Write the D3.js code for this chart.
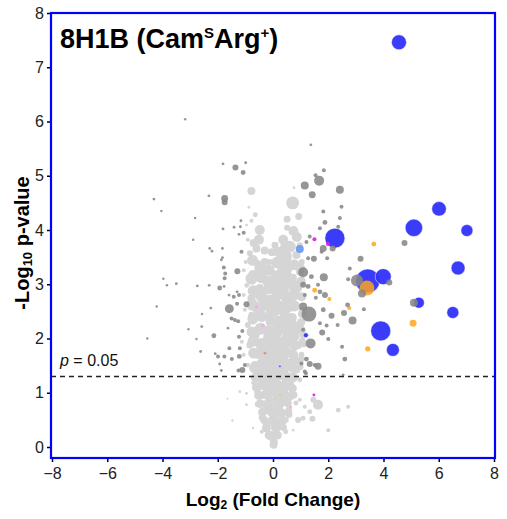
<!DOCTYPE html>
<html>
<head>
<meta charset="utf-8">
<script src="https://cdn.jsdelivr.net/npm/d3@7"></script>
<style>
  body { margin: 0; background: #fff; }
  svg { font-family: "Liberation Sans", Arial, sans-serif; }
</style>
</head>
<body>
<script>
// volcano plot values: [log2 fold change, -log10 p, abundance]
var lightPts = [
  [-0.78,4.72,16],[0.71,4.50,42],[0.76,4.78,2],[-0.87,4.42,2],[-0.64,4.28,6],[0.51,4.20,12],
  [0.93,4.25,12],[-0.78,4.17,4],[0.51,4.04,9],[-0.48,4.00,25],[-0.51,3.82,25],[-0.96,4.09,2],
  [0.74,3.98,25],[0.37,3.82,25],[0.86,3.87,25],[0.61,3.69,36],[0.31,3.45,36],[-0.60,3.66,16],
  [-0.72,3.48,9],[-0.84,3.57,9],[0.43,3.51,49],[0.85,3.54,16],[-0.04,3.59,16],[-0.30,3.41,16],
  [1.04,3.41,9],[0.49,3.11,49],[0.37,2.86,36],[0.61,2.62,49],[0.25,2.31,36],[0.55,2.13,36],
  [0.37,1.85,36],[0.73,1.70,25],[-0.72,3.17,25],[-0.48,2.93,16],[-0.78,2.74,16],[-0.66,2.07,25],
  [-0.24,1.94,25],[-0.12,2.56,25],[-0.30,3.23,16],[-0.54,3.39,9],[0.13,2.99,25],[0.07,2.74,25],
  [0.97,3.23,16],[0.91,2.93,16],[0.97,2.25,16],[0.91,1.88,16],[1.03,1.70,9],[-0.04,3.08,16],
  [-0.41,2.71,16],[-0.12,2.31,16],[-0.41,2.38,16],[-0.77,2.43,12],[-0.95,2.98,6],[-0.91,2.25,9],
  [-0.84,1.88,12],[-0.55,1.70,16],[-0.12,1.70,25],[0.10,2.06,25],[0.68,2.38,25],[0.79,2.89,25],
  [0.54,3.36,25],[1.04,2.53,9],[1.08,2.06,9],[1.12,1.88,6],[-1.02,2.53,4],[-1.06,3.26,4],
  [-1.13,1.94,4],[-0.66,1.51,16],[-0.19,1.46,25],[0.43,1.46,25],[0.86,1.42,12],[-0.41,1.24,16],
  [0.10,1.20,25],[0.61,1.18,16],[-0.72,1.18,4],[-0.37,0.96,16],[0.17,0.90,25],[0.64,0.94,16],
  [-0.26,0.68,16],[0.21,0.65,25],[0.57,0.68,12],[-0.22,0.43,16],[0.25,0.39,20],[-0.04,0.20,25],
  [0.03,0.09,16],[-0.41,0.54,9],[0.46,0.50,9],[-0.55,0.79,9],[0.83,0.81,6],[-0.56,1.01,9],
  [-0.96,0.99,2],[-1.20,1.02,2],[-0.96,0.78,2],[-1.47,0.49,1.5],[-0.72,0.35,1.5],[0.97,0.87,4],
  [1.15,0.74,4],[1.33,0.65,6],[1.63,0.78,25],[1.46,0.87,9],[0.91,0.50,9],[1.09,0.53,6],
  [1.43,0.52,9],[2.00,0.31,4],[0.73,0.31,2],[2.36,0.68,6],[2.72,0.74,4],[-1.65,0.89,1],
  [-0.41,1.83,16],[0.17,1.75,25],[0.54,1.93,16],[-0.55,2.16,9],[0.39,2.49,25],[0.10,2.49,16],
  [0.32,3.23,25],[0.72,3.12,16],[-0.26,2.89,16],[-0.62,2.53,9],[0.83,2.16,16],[0.00,1.09,16],
  [0.43,1.01,12],[-0.12,0.87,12],[0.46,0.28,6],[-0.41,0.28,4],[-0.59,1.37,9],[0.97,1.24,6],
  [-0.91,1.51,6],[0.91,1.57,9],[-0.12,3.41,9],[0.07,3.72,12],[0.97,3.72,9],[-0.91,3.82,4],
  [-0.99,3.41,4],[-1.06,2.80,4],[-1.06,1.70,4],
  // dense core of the cloud
  [-0.74,3.44,30],[-0.46,3.30,36],[-0.14,3.26,30],[0.16,3.40,36],[0.47,3.29,42],[0.76,3.36,30],[1.00,3.30,20],
  [-0.78,3.10,36],[-0.43,3.12,30],[-0.17,3.05,36],[0.14,3.14,42],[0.44,3.02,36],[0.74,2.98,36],[1.02,3.06,20],
  [-0.72,2.88,30],[-0.45,2.80,36],[-0.13,2.92,30],[0.17,2.83,42],[0.48,2.77,36],[0.77,2.80,30],[1.04,2.77,20],
  [-0.75,2.62,36],[-0.44,2.58,30],[-0.15,2.70,36],[0.16,2.61,36],[0.46,2.58,42],[0.78,2.60,30],[1.05,2.45,16],
  [-0.73,2.36,30],[-0.47,2.44,36],[-0.14,2.40,30],[0.15,2.30,42],[0.45,2.40,36],[0.76,2.22,30],[1.02,2.30,16],
  [-0.76,2.12,30],[-0.45,2.18,36],[-0.15,2.14,36],[0.18,2.13,30],[0.47,2.24,30],[0.75,2.05,36],[1.04,2.15,16],
  [-0.72,1.95,30],[-0.44,1.90,36],[-0.16,2.03,30],[0.13,1.93,42],[0.46,1.98,30],[0.78,1.88,30],[1.06,1.95,12],
  [-0.70,1.73,30],[-0.42,1.70,30],[-0.14,1.80,36],[0.16,1.62,36],[0.46,1.74,36],[0.76,1.60,25],[1.02,1.62,12],
  [-0.68,1.45,25],[-0.43,1.52,30],[-0.15,1.58,36],[0.15,1.45,36],[0.44,1.55,30],[0.73,1.45,25],[0.98,1.48,12],
  [-0.62,1.28,25],[-0.38,1.35,30],[-0.12,1.30,36],[0.18,1.32,30],[0.46,1.30,30],[0.72,1.28,25],
  [-0.58,1.10,25],[-0.30,1.14,30],[0.05,1.15,30],[0.38,1.12,30],[0.70,1.08,20],
  [-0.52,0.95,20],[-0.20,0.98,30],[0.15,0.98,30],[0.48,0.92,25],[0.76,0.96,12],
  [-0.46,0.80,20],[-0.15,0.80,30],[0.22,0.80,30],[0.52,0.82,20],
  [-0.38,0.64,20],[-0.05,0.66,30],[0.30,0.62,25],[0.58,0.60,12],
  [-0.32,0.50,16],[0.02,0.50,30],[0.34,0.48,20],
  [-0.24,0.35,20],[0.10,0.36,25],[0.38,0.36,12],
  [-0.14,0.22,20],[0.16,0.22,20],[0.02,0.04,16],
  [0.18,3.60,25],[-0.30,3.62,16],[0.45,3.68,30],[-0.70,3.76,16]
];

var darkPts = [
  [1.37,5.57,2],[1.84,5.10,4],[1.67,4.91,25],[1.54,5.01,4],[1.15,4.82,16],[1.42,4.65,12],
  [2.42,4.74,16],[2.48,4.43,4],[1.82,4.34,4],[2.42,4.22,4],[1.88,4.14,6],[2.36,4.06,4],
  [1.70,4.03,4],[1.21,3.78,4],[1.33,3.88,4],[2.16,3.66,9],[1.82,3.66,12],[1.27,3.48,4],
  [1.48,3.47,9],[1.96,3.48,4],[1.76,3.60,4],[3.17,3.47,9],[2.78,3.29,4],[2.72,3.09,4],
  [3.04,3.07,36],[3.22,2.83,16],[4.21,3.03,9],[4.76,3.76,9],[1.09,3.22,25],[1.39,3.14,6],
  [1.84,3.13,16],[1.63,2.99,4],[1.27,2.96,6],[1.70,2.86,6],[1.88,2.80,9],[1.15,2.80,4],
  [1.55,2.75,4],[2.70,2.62,6],[3.29,2.54,4],[1.30,2.45,56],[1.09,2.59,16],[1.82,2.53,6],
  [2.12,2.42,9],[2.57,2.47,9],[2.88,2.33,16],[2.34,2.25,4],[1.70,2.28,4],[1.78,2.11,9],
  [2.00,1.99,4],[1.36,1.91,25],[2.50,1.85,4],[2.60,1.62,6],[1.21,1.62,6],[1.51,1.51,4],
  [1.15,1.39,4],[2.54,1.33,2],[1.09,2.99,9],[1.09,2.16,4],[5.10,2.66,16],[1.94,2.24,4],
  [-3.18,6.04,1.5],[-0.99,5.24,2],[-1.81,5.22,2],[-1.36,5.15,9],[-1.08,5.06,6],[-2.32,4.63,2],
  [-1.75,4.58,12],[-1.75,4.51,9],[-1.16,4.17,2],[-1.81,4.02,2],[-1.41,4.05,2],[-1.18,4.06,2],
  [-1.06,3.95,4],[-1.23,3.92,2],[-2.29,3.66,2],[-2.21,3.61,2],[-1.83,3.66,2],[-1.14,3.60,4],
  [-1.83,3.49,2],[-4.31,4.57,2],[-4.04,4.35,1.5],[-2.82,4.22,1.5],[-2.89,3.82,1.5],[-1.78,3.31,4],
  [-1.73,3.20,4],[-1.29,3.24,9],[-3.97,3.10,1.5],[-3.84,2.98,1.5],[-3.50,3.01,2],[-2.74,2.97,2],
  [-2.31,2.98,2],[-1.93,2.93,6],[-1.77,2.96,2],[-1.59,2.80,2],[-1.42,2.77,4],[-1.30,2.86,2],
  [-4.21,2.59,1.5],[-2.25,2.56,2],[-1.58,2.55,20],[-1.30,2.64,4],[-2.57,2.45,1.5],[-1.50,2.37,4],
  [-1.38,2.34,4],[-1.26,2.32,4],[-1.63,2.19,2],[-2.58,2.22,2],[-3.06,2.17,1.5],[-2.14,2.05,6],
  [-1.23,2.03,4],[-2.77,1.99,1.5],[-4.55,2.00,1.5],[-1.58,1.82,4],[-2.62,1.76,2],[-2.09,1.72,2],
  [-1.99,1.67,4],[-1.76,1.67,4],[-1.49,1.62,4],[-1.22,1.67,6],[-1.93,1.53,2],[-1.87,1.41,2],
  [-1.25,1.41,4],[-1.11,1.42,9],[-1.02,1.51,4],[1.03,1.54,4],[1.33,1.53,9],[1.63,1.49,12],
  [1.19,1.36,4],[-0.96,2.63,9],[-1.75,3.11,4],[-1.23,2.80,4],[-1.11,2.14,4],[-1.87,3.45,2],
  [-1.20,1.82,4]
];

var bluePts = [
  [4.56,7.46,56],[2.24,3.85,100],[3.43,3.06,144],[3.99,3.14,64],[3.90,2.14,100],[4.34,1.79,42],
  [5.10,4.04,76],[6.01,4.39,53],[7.02,3.99,36],[6.70,3.30,49],[5.28,2.66,30],[6.51,2.48,36],
  [1.19,2.06,6],[0.25,1.49,1.5]
];
var lightBluePts = [[0.97,3.65,16]];

var orangePts = [
  [3.40,2.93,56],[3.65,3.74,6],[2.76,2.56,4],[5.07,2.28,12],[3.43,1.81,7],[1.51,2.89,6],
  [2.04,2.73,4]
];
var paleOrangePts = [[0.28,0.96,2]];

var magentaPts = [[1.50,3.83,4],[1.99,3.74,4],[1.48,0.96,2]];
var pinkPts = [[-0.60,2.58,2],[-0.38,2.24,2],[0.64,0.74,2]];
var salmonPts = [[-0.29,1.73,2]];

var xTicks = [-8, -6, -4, -2, 0, 2, 4, 6, 8];
var yTicks = [0, 1, 2, 3, 4, 5, 6, 7, 8];
var pThreshold = 1.3;

var w = 507, h = 519;

var svg = d3.select("body").append("svg")
    .attr("width", w)
    .attr("height", h);

var x = d3.scaleLinear().domain([-8, 8]).range([52, 494]);
var y = d3.scaleLinear().domain([0, 8]).range([447, 13]);
var r = d3.scaleSqrt().domain([0, 100]).range([0, 10]);

var frame = {left: 51, right: 495, top: 13, bottom: 458};

// axes
var xAxis = svg.append("g")
    .attr("transform", "translate(0," + frame.bottom + ")")
    .call(d3.axisBottom(x).tickValues(xTicks).tickSize(4).tickPadding(6));
var yAxis = svg.append("g")
    .attr("transform", "translate(" + frame.left + ",0)")
    .call(d3.axisLeft(y).tickValues(yTicks).tickSize(4).tickPadding(3).tickFormat(d3.format("d")));

[xAxis, yAxis].forEach(function (g) {
    g.select(".domain").remove();
    g.selectAll("line").attr("stroke", "#000").attr("stroke-width", 1.5);
    g.selectAll("text").attr("fill", "#222").style("font-size", "16px")
        .style("font-family", "'Liberation Sans', Arial, sans-serif");
});

// points
function drawPts(data, fill, opacity, stroke) {
    svg.append("g").selectAll("circle")
        .data(data)
        .enter()
        .append("circle")
        .attr("cx", function (d) { return x(d[0]); })
        .attr("cy", function (d) { return y(d[1]); })
        .attr("r", function (d) { return r(d[2]); })
        .attr("fill", fill)
        .attr("fill-opacity", opacity)
        .attr("stroke", stroke || "none")
        .attr("stroke-width", 0.5);
}

drawPts(lightPts, "#d5d5d5", 1);
drawPts(lightBluePts, "#6a9cf0", 0.95);
drawPts(bluePts, "#3030fa", 0.95, "#ffffff");
drawPts(orangePts, "#ffa41c", 0.85);
drawPts(paleOrangePts, "#f3c98a", 0.9);
drawPts(darkPts, "#888888", 0.88);
drawPts(magentaPts, "#e81ee8", 0.95);
drawPts(pinkPts, "#f2a6f0", 0.95);
drawPts(salmonPts, "#ee8a84", 0.95);

// significance threshold
svg.append("line")
    .attr("x1", frame.left).attr("x2", frame.right)
    .attr("y1", y(pThreshold)).attr("y2", y(pThreshold))
    .attr("stroke", "#222")
    .attr("stroke-width", 1.4)
    .attr("stroke-dasharray", "5,4");

var pLabel = svg.append("text")
    .attr("x", 60).attr("y", y(pThreshold) - 10)
    .style("font-size", "16px")
    .attr("fill", "#111");
pLabel.append("tspan").style("font-style", "italic").text("p");
pLabel.append("tspan").text(" = 0.05");

// frame
svg.append("rect")
    .attr("x", frame.left).attr("y", frame.top)
    .attr("width", frame.right - frame.left)
    .attr("height", frame.bottom - frame.top)
    .attr("fill", "none")
    .attr("stroke", "#0000ff")
    .attr("stroke-width", 2.2);

// title
var title = svg.append("text")
    .attr("x", 60).attr("y", 48)
    .style("font-size", "27px")
    .style("font-weight", "bold")
    .attr("fill", "#000");
title.append("tspan").text("8H1B (Cam");
title.append("tspan").attr("dy", -10).style("font-size", "15px").text("S");
title.append("tspan").attr("dy", 10).text("Arg");
title.append("tspan").attr("dy", -10).style("font-size", "15px").text("+");
title.append("tspan").attr("dy", 10).text(")");

// axis labels
var xl = svg.append("text")
    .attr("x", 273).attr("y", 506)
    .attr("text-anchor", "middle")
    .style("font-size", "19px")
    .style("font-weight", "bold");
xl.append("tspan").text("Log");
xl.append("tspan").attr("dy", 3).style("font-size", "12px").text("2");
xl.append("tspan").attr("dy", -3).text(" (Fold Change)");

var yl = svg.append("text")
    .attr("transform", "translate(29,243) rotate(-90)")
    .attr("text-anchor", "middle")
    .style("font-size", "20px")
    .style("font-weight", "bold");
yl.append("tspan").text("-Log");
yl.append("tspan").attr("dy", 3).style("font-size", "13px").text("10");
yl.append("tspan").attr("dy", -3).text(" p-value");
</script>
</body>
</html>
